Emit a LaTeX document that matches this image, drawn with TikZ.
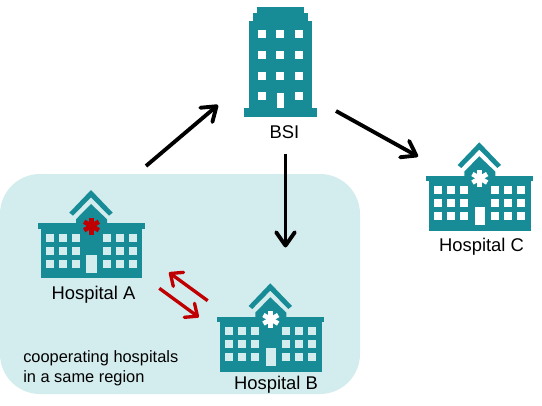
\documentclass[tikz,border=0pt]{standalone}
\usepackage{fontspec}
\setmainfont{Liberation Sans}
\usetikzlibrary{arrows.meta}
\definecolor{tealdark}{HTML}{178C96}
\definecolor{regionfill}{HTML}{D3ECEE}
\definecolor{crossred}{HTML}{C00000}

\begin{document}
\begin{tikzpicture}[
    x=0.75pt,
    y=-0.75pt,
    arrow/.style={
        -{Straight Barb[length=10pt,width=14pt,line width=2.9pt,round]},
        line width=2.9pt,
        black
    },
    redarrow/.style={
        -{Straight Barb[length=7.5pt,width=13pt,line width=2.5pt,round]},
        line width=2.5pt,
        crossred
    },
    label/.style={
        inner sep=0pt,
        font=\fontsize{13.8pt}{15pt}\selectfont
    },
    region/.style={
        fill=regionfill,
        rounded corners=30pt
    },
    pics/hospital/.style n args={2}{code={
        % Roof
        \fill[tealdark] (-21.7,22.7) -- (0,0) -- (21.7,22.7) -- (18,25.7) -- (0,7.3) -- (-18,25.7) -- cycle;
        \fill[tealdark] (0,14) -- (16,29.3) -- (16,34) -- (-15,34) -- (-15,29.3) -- cycle;
        % Body
        \fill[tealdark] (-53,33.3) rectangle (54,38.7);
        \fill[tealdark] (-50,38.7) rectangle (51.3,88.3);
        % Windows
        \foreach \wx in {-41,-28,-15,16,29,42}
            \foreach \wy in {47.7,60.7,73.7}
                \fill[#2] (\wx-3.85,\wy-3.85) rectangle (\wx+3.85,\wy+3.85);
        \fill[#2] (-4.7,64.7) rectangle (5.7,83);
        % Cross
        \foreach \ang in {90,30,150}
            \draw[#1, line width=3.5pt] (0.5,36) ++(\ang:8.5) -- ++(\ang+180:17);
    }},
    pics/tower/.style={code={
        \fill[tealdark] (-24,0) rectangle (22.4,6);
        \fill[tealdark] (-28.3,6) rectangle (26.7,13.4);
        \fill[tealdark] (-32,13.4) rectangle (30.4,100.7);
        \fill[tealdark] (-37.3,100.7) rectangle (35.7,110);
        \foreach \wx in {-19,-1,17.4}
            \foreach \wy in {26.7,47.4,68.4}
                \fill[white] (\wx-4,\wy-4) rectangle (\wx+4,\wy+4);
        \foreach \wx in {-19,17.4}
            \fill[white] (\wx-4,85) rectangle (\wx+4,93);
        \fill[white] (-4.6,85.4) rectangle (3,100.7);
    }}
]

    \useasboundingbox (0,0) rectangle (542,406);

    % Region
    \path[region] (0,174) rectangle (360,394);
    \node[label, anchor=west, align=left, font=\fontsize{12.3pt}{15pt}\selectfont] (regionlabel) at (23,368.5) {cooperating hospitals\\in a same region};

    % Buildings
    \pic (bsi) at (281.3,7.3) {tower};
    \pic (hospA) at (91,190) {hospital={crossred}{regionfill}};
    \pic (hospB) at (270.3,283.3) {hospital={white}{regionfill}};
    \pic (hospC) at (479.3,142.3) {hospital={white}{white}};

    \node[label] (bsilabel) at (284.5,132) {BSI};
    \node[label] (labelA) at (93.5,294.5) {Hospital A};
    \node[label] (labelB) at (276,384.5) {Hospital B};
    \node[label] (labelC) at (481.5,246.5) {Hospital C};

    % Arrow ends
    \coordinate (regionout) at (146,166);
    \coordinate (bsiin) at (218,105);
    \coordinate (bsioutC) at (336,111);
    \coordinate (hospCin) at (418,156.5);
    \coordinate (bsioutB) at (285.5,154);
    \coordinate (hospBin) at (285.5,247.5);
    \coordinate (redBstart) at (207.7,300.7);
    \coordinate (redAend) at (169,272.5);
    \coordinate (redAstart) at (159.3,288.3);
    \coordinate (redBend) at (198.8,317.2);

    \draw[arrow] (regionout) -- (bsiin);
    \draw[arrow] (bsioutC) -- (hospCin);
    \draw[arrow] (bsioutB) -- (hospBin);
    \draw[redarrow] (redBstart) -- (redAend);
    \draw[redarrow] (redAstart) -- (redBend);

\end{tikzpicture}
\end{document}
